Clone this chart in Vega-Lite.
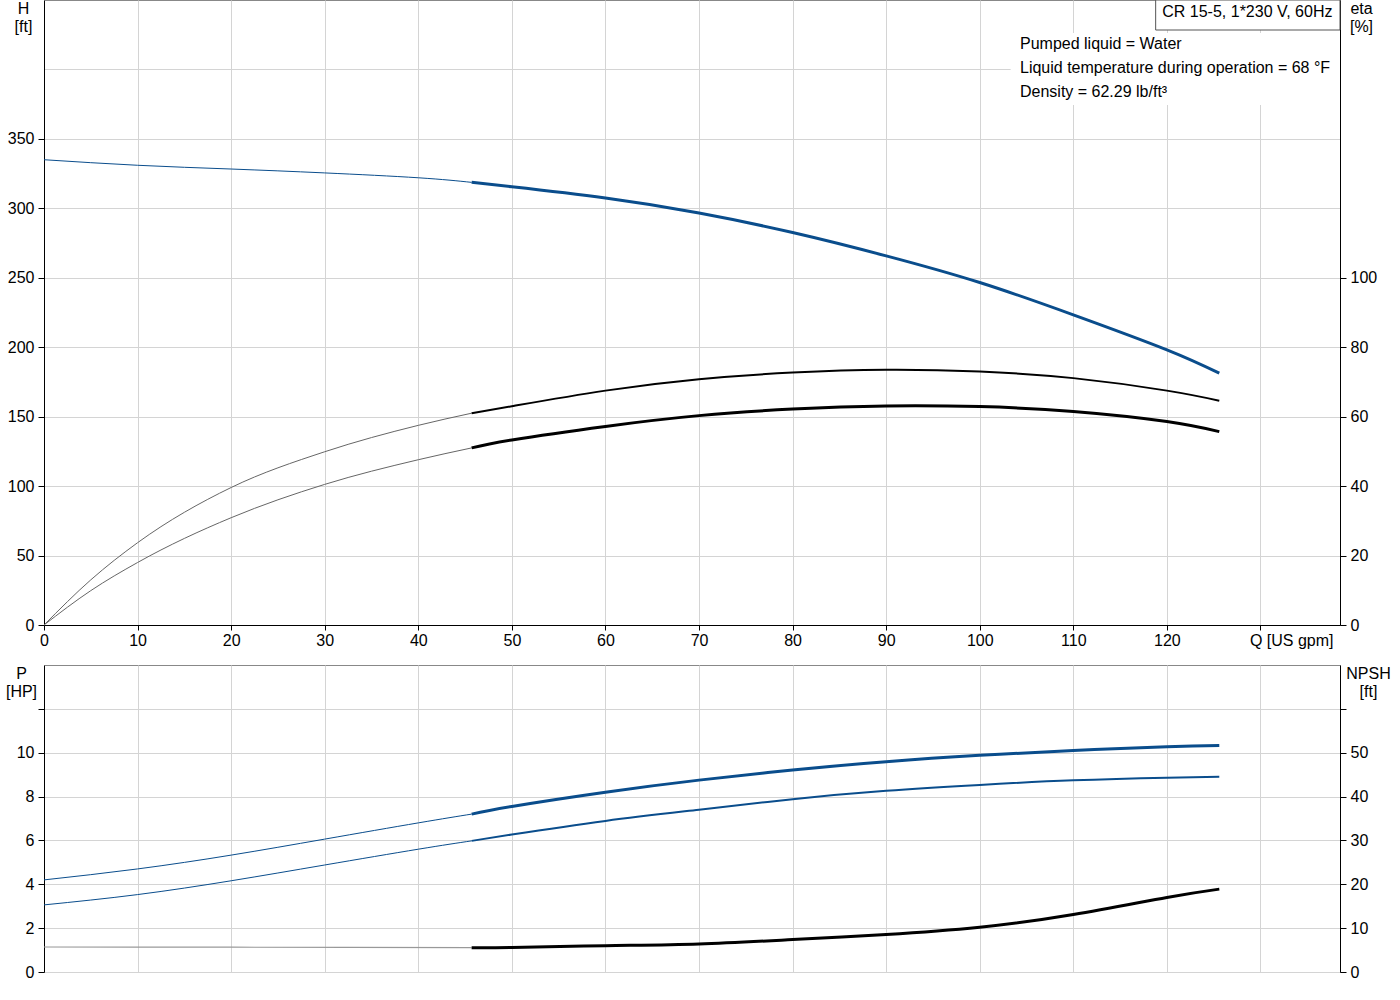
{
  "$schema": "https://vega.github.io/schema/vega-lite/v6.json",
  "padding": {"left": 4, "top": -1, "right": 0, "bottom": 0},
  "spacing": 15,
  "background": "white",
  "config": {
    "font": "Liberation Sans",
    "view": {"stroke": "#888888", "strokeWidth": 1},
    "axis": {
      "labelFont": "Liberation Sans",
      "labelFontSize": 16,
      "labelColor": "#000000",
      "titleFont": "Liberation Sans",
      "titleFontSize": 16,
      "titleFontWeight": "normal",
      "titleColor": "#000000",
      "domainColor": "#000000",
      "tickColor": "#000000",
      "gridColor": "#d4d4d4",
      "gridWidth": 1,
      "tickSize": 6,
      "labelPadding": 4
    },
    "text": {"font": "Liberation Sans", "fontSize": 16, "color": "#000000"}
  },
  "datasets": {
    "curves": [
      {"series": "H", "seg": "thin", "q": 0, "v": 335},
      {"series": "H", "seg": "thin", "q": 10, "v": 331},
      {"series": "H", "seg": "thin", "q": 20, "v": 328.3},
      {"series": "H", "seg": "thin", "q": 30, "v": 325.5},
      {"series": "H", "seg": "thin", "q": 40, "v": 322},
      {"series": "H", "seg": "thin", "q": 45.7, "v": 318.7},
      {"series": "H", "seg": "thick", "q": 45.7, "v": 318.7},
      {"series": "H", "seg": "thick", "q": 50, "v": 315.5},
      {"series": "H", "seg": "thick", "q": 60, "v": 307.4},
      {"series": "H", "seg": "thick", "q": 70, "v": 296.6},
      {"series": "H", "seg": "thick", "q": 80, "v": 282.6},
      {"series": "H", "seg": "thick", "q": 90, "v": 265.8},
      {"series": "H", "seg": "thick", "q": 100, "v": 246.6},
      {"series": "H", "seg": "thick", "q": 110, "v": 223.3},
      {"series": "H", "seg": "thick", "q": 120, "v": 198.1},
      {"series": "H", "seg": "thick", "q": 125.6, "v": 181.3},

      {"series": "eta_pump", "seg": "thin", "q": 0, "v": 0},
      {"series": "eta_pump", "seg": "thin", "q": 5, "v": 13},
      {"series": "eta_pump", "seg": "thin", "q": 10, "v": 23.7},
      {"series": "eta_pump", "seg": "thin", "q": 20, "v": 39.6},
      {"series": "eta_pump", "seg": "thin", "q": 30, "v": 49.9},
      {"series": "eta_pump", "seg": "thin", "q": 40, "v": 57.5},
      {"series": "eta_pump", "seg": "thin", "q": 45.7, "v": 61.0},
      {"series": "eta_pump", "seg": "thick", "q": 45.7, "v": 61.0},
      {"series": "eta_pump", "seg": "thick", "q": 50, "v": 63.0},
      {"series": "eta_pump", "seg": "thick", "q": 60, "v": 67.5},
      {"series": "eta_pump", "seg": "thick", "q": 70, "v": 70.8},
      {"series": "eta_pump", "seg": "thick", "q": 80, "v": 72.7},
      {"series": "eta_pump", "seg": "thick", "q": 90, "v": 73.5},
      {"series": "eta_pump", "seg": "thick", "q": 100, "v": 73.0},
      {"series": "eta_pump", "seg": "thick", "q": 110, "v": 71.1},
      {"series": "eta_pump", "seg": "thick", "q": 120, "v": 67.5},
      {"series": "eta_pump", "seg": "thick", "q": 125.6, "v": 64.6},

      {"series": "eta_total", "seg": "thin", "q": 0, "v": 0},
      {"series": "eta_total", "seg": "thin", "q": 5, "v": 9.9},
      {"series": "eta_total", "seg": "thin", "q": 10, "v": 18.0},
      {"series": "eta_total", "seg": "thin", "q": 20, "v": 30.9},
      {"series": "eta_total", "seg": "thin", "q": 30, "v": 40.5},
      {"series": "eta_total", "seg": "thin", "q": 40, "v": 47.6},
      {"series": "eta_total", "seg": "thin", "q": 45.7, "v": 51.0},
      {"series": "eta_total", "seg": "thick", "q": 45.7, "v": 51.0},
      {"series": "eta_total", "seg": "thick", "q": 50, "v": 53.3},
      {"series": "eta_total", "seg": "thick", "q": 60, "v": 57.2},
      {"series": "eta_total", "seg": "thick", "q": 70, "v": 60.3},
      {"series": "eta_total", "seg": "thick", "q": 80, "v": 62.2},
      {"series": "eta_total", "seg": "thick", "q": 90, "v": 63.1},
      {"series": "eta_total", "seg": "thick", "q": 100, "v": 62.9},
      {"series": "eta_total", "seg": "thick", "q": 110, "v": 61.5},
      {"series": "eta_total", "seg": "thick", "q": 120, "v": 58.6},
      {"series": "eta_total", "seg": "thick", "q": 125.6, "v": 55.7},

      {"series": "P1", "seg": "thin", "q": 0, "v": 4.2},
      {"series": "P1", "seg": "thin", "q": 10, "v": 4.7},
      {"series": "P1", "seg": "thin", "q": 20, "v": 5.33},
      {"series": "P1", "seg": "thin", "q": 30, "v": 6.06},
      {"series": "P1", "seg": "thin", "q": 40, "v": 6.8},
      {"series": "P1", "seg": "thin", "q": 45.7, "v": 7.2},
      {"series": "P1", "seg": "thick", "q": 45.7, "v": 7.2},
      {"series": "P1", "seg": "thick", "q": 50, "v": 7.55},
      {"series": "P1", "seg": "thick", "q": 60, "v": 8.2},
      {"series": "P1", "seg": "thick", "q": 70, "v": 8.75},
      {"series": "P1", "seg": "thick", "q": 80, "v": 9.21},
      {"series": "P1", "seg": "thick", "q": 90, "v": 9.59},
      {"series": "P1", "seg": "thick", "q": 100, "v": 9.88},
      {"series": "P1", "seg": "thick", "q": 110, "v": 10.1},
      {"series": "P1", "seg": "thick", "q": 120, "v": 10.27},
      {"series": "P1", "seg": "thick", "q": 125.6, "v": 10.33},

      {"series": "P2", "seg": "thin", "q": 0, "v": 3.06},
      {"series": "P2", "seg": "thin", "q": 10, "v": 3.53},
      {"series": "P2", "seg": "thin", "q": 20, "v": 4.16},
      {"series": "P2", "seg": "thin", "q": 30, "v": 4.88},
      {"series": "P2", "seg": "thin", "q": 40, "v": 5.6},
      {"series": "P2", "seg": "thin", "q": 45.7, "v": 5.98},
      {"series": "P2", "seg": "thick", "q": 45.7, "v": 5.98},
      {"series": "P2", "seg": "thick", "q": 50, "v": 6.27},
      {"series": "P2", "seg": "thick", "q": 60, "v": 6.89},
      {"series": "P2", "seg": "thick", "q": 70, "v": 7.4},
      {"series": "P2", "seg": "thick", "q": 80, "v": 7.88},
      {"series": "P2", "seg": "thick", "q": 90, "v": 8.26},
      {"series": "P2", "seg": "thick", "q": 100, "v": 8.53},
      {"series": "P2", "seg": "thick", "q": 110, "v": 8.74},
      {"series": "P2", "seg": "thick", "q": 120, "v": 8.86},
      {"series": "P2", "seg": "thick", "q": 125.6, "v": 8.9},

      {"series": "NPSH", "seg": "thin", "q": 0, "v": 5.7},
      {"series": "NPSH", "seg": "thin", "q": 20, "v": 5.65},
      {"series": "NPSH", "seg": "thin", "q": 45.7, "v": 5.55},
      {"series": "NPSH", "seg": "thick", "q": 45.7, "v": 5.55},
      {"series": "NPSH", "seg": "thick", "q": 50, "v": 5.6},
      {"series": "NPSH", "seg": "thick", "q": 60, "v": 6.0},
      {"series": "NPSH", "seg": "thick", "q": 70, "v": 6.4},
      {"series": "NPSH", "seg": "thick", "q": 80, "v": 7.4},
      {"series": "NPSH", "seg": "thick", "q": 90, "v": 8.55},
      {"series": "NPSH", "seg": "thick", "q": 100, "v": 10.2},
      {"series": "NPSH", "seg": "thick", "q": 110, "v": 13.1},
      {"series": "NPSH", "seg": "thick", "q": 120, "v": 17.0},
      {"series": "NPSH", "seg": "thick", "q": 125.6, "v": 18.9}
    ],
    "one": [{}]
  },
  "vconcat": [
    {
      "width": 1296,
      "height": 625,
      "layer": [
        {
          "encoding": {
            "x": {
              "type": "quantitative",
              "scale": {"domain": [0, 138.5], "nice": false, "zero": false},
              "axis": {
                "title": null,
                "values": [0, 10, 20, 30, 40, 50, 60, 70, 80, 90, 100, 110, 120, 130],
                "labelExpr": "datum.value == 130 ? 'Q [US gpm]' : datum.label",
                "labelAlign": {"condition": {"test": "datum.value == 130", "value": "left"}, "value": "center"},
                "labelOffset": {"condition": {"test": "datum.value == 130", "value": -11}, "value": 0},
                "tickSize": 5,
                "labelPadding": 2,
                "grid": true
              }
            },
            "y": {
              "type": "quantitative",
              "scale": {"domain": [0, 450], "nice": false},
              "axis": {
                "orient": "left",
                "title": ["H", "[ft]"],
                "titleAngle": 0,
                "titleAlign": "center",
                "titleBaseline": "top",
                "titleLineHeight": 18,
                "titleX": -21,
                "titleY": 0,
                "values": [0, 50, 100, 150, 200, 250, 300, 350, 400],
                "labelExpr": "datum.value > 350 ? '' : datum.label",
                "tickOpacity": {"condition": {"test": "datum.value > 350", "value": 0}, "value": 1},
                "grid": true
              }
            }
          },
          "layer": [
            {
              "data": {"name": "curves"},
              "transform": [{"filter": "datum.series == 'H' && datum.seg == 'thin'"}],
              "mark": {"type": "line", "interpolate": "natural", "color": "#0a4d8c", "strokeWidth": 1},
              "encoding": {"x": {"field": "q"}, "y": {"field": "v"}}
            },
            {
              "data": {"name": "curves"},
              "transform": [{"filter": "datum.series == 'H' && datum.seg == 'thick'"}],
              "mark": {"type": "line", "interpolate": "natural", "color": "#0a4d8c", "strokeWidth": 3},
              "encoding": {"x": {"field": "q"}, "y": {"field": "v"}}
            },
            {
              "data": {"name": "one"},
              "mark": {"type": "rect", "fill": "white", "stroke": null},
              "encoding": {
                "x": {"datum": 103.3}, "x2": {"datum": 138.5},
                "y": {"datum": 426.2}, "y2": {"datum": 374.4}
              }
            },
            {
              "data": {"name": "one"},
              "mark": {"type": "rect", "fill": "white", "stroke": "#555555", "strokeWidth": 1},
              "encoding": {
                "x": {"datum": 118.8}, "x2": {"datum": 138.5},
                "y": {"datum": 450}, "y2": {"datum": 428.4}
              }
            },
            {
              "data": {"name": "one"},
              "mark": {"type": "text", "align": "center", "baseline": "middle", "text": "CR 15-5, 1*230 V, 60Hz"},
              "encoding": {"x": {"datum": 128.6}, "y": {"datum": 441.4}}
            },
            {
              "data": {"name": "one"},
              "mark": {
                "type": "text", "align": "left", "baseline": "top", "lineHeight": 24,
                "text": ["Pumped liquid = Water", "Liquid temperature during operation = 68 °F", "Density = 62.29 lb/ft³"]
              },
              "encoding": {"x": {"datum": 104.3}, "y": {"datum": 424.1}}
            }
          ]
        },
        {
          "data": {"name": "curves"},
          "encoding": {
            "x": {"field": "q", "type": "quantitative", "scale": {"domain": [0, 138.5], "nice": false, "zero": false}},
            "y": {
              "field": "v",
              "type": "quantitative",
              "scale": {"domain": [0, 180], "nice": false},
              "axis": {
                "orient": "right",
                "title": ["eta", "[%]"],
                "titleAngle": 0,
                "titleAlign": "center",
                "titleBaseline": "top",
                "titleLineHeight": 18,
                "titleX": 21,
                "titleY": 0,
                "values": [0, 20, 40, 60, 80, 100],
                "grid": false
              }
            }
          },
          "layer": [
            {
              "transform": [{"filter": "datum.series == 'eta_pump' && datum.seg == 'thin'"}],
              "mark": {"type": "line", "interpolate": "monotone", "color": "#666666", "strokeWidth": 1}
            },
            {
              "transform": [{"filter": "datum.series == 'eta_total' && datum.seg == 'thin'"}],
              "mark": {"type": "line", "interpolate": "monotone", "color": "#666666", "strokeWidth": 1}
            },
            {
              "transform": [{"filter": "datum.series == 'eta_pump' && datum.seg == 'thick'"}],
              "mark": {"type": "line", "interpolate": "natural", "color": "#000000", "strokeWidth": 2}
            },
            {
              "transform": [{"filter": "datum.series == 'eta_total' && datum.seg == 'thick'"}],
              "mark": {"type": "line", "interpolate": "natural", "color": "#000000", "strokeWidth": 3}
            }
          ]
        }
      ],
      "resolve": {"scale": {"y": "independent"}}
    },
    {
      "width": 1296,
      "height": 307,
      "layer": [
        {
          "data": {"name": "curves"},
          "encoding": {
            "x": {
              "field": "q",
              "type": "quantitative",
              "scale": {"domain": [0, 138.5], "nice": false, "zero": false},
              "axis": {
                "title": null,
                "values": [0, 10, 20, 30, 40, 50, 60, 70, 80, 90, 100, 110, 120, 130],
                "labels": false,
                "ticks": false,
                "domain": false,
                "grid": true
              }
            },
            "y": {
              "field": "v",
              "type": "quantitative",
              "scale": {"domain": [0, 14], "nice": false},
              "axis": {
                "orient": "left",
                "title": ["P", "[HP]"],
                "titleAngle": 0,
                "titleAlign": "center",
                "titleBaseline": "top",
                "titleLineHeight": 18,
                "titleX": -23,
                "titleY": 0,
                "values": [0, 2, 4, 6, 8, 10, 12],
                "labelExpr": "datum.value > 10 ? '' : datum.label",
                "grid": true
              }
            }
          },
          "layer": [
            {
              "transform": [{"filter": "(datum.series == 'P1' || datum.series == 'P2') && datum.seg == 'thin'"}],
              "mark": {"type": "line", "interpolate": "natural", "color": "#0a4d8c", "strokeWidth": 1},
              "encoding": {"detail": {"field": "series"}}
            },
            {
              "transform": [{"filter": "datum.series == 'P1' && datum.seg == 'thick'"}],
              "mark": {"type": "line", "interpolate": "natural", "color": "#0a4d8c", "strokeWidth": 3}
            },
            {
              "transform": [{"filter": "datum.series == 'P2' && datum.seg == 'thick'"}],
              "mark": {"type": "line", "interpolate": "natural", "color": "#0a4d8c", "strokeWidth": 2}
            },
            {
              "data": {"name": "one"},
              "mark": {"type": "text", "align": "center", "baseline": "middle", "dy": -15, "color": "#0a4d8c", "text": "P1"},
              "encoding": {"x": {"datum": 125.6}, "y": {"datum": 10.33}}
            },
            {
              "data": {"name": "one"},
              "mark": {"type": "text", "align": "center", "baseline": "middle", "dy": 9, "color": "#0a4d8c", "text": "P2"},
              "encoding": {"x": {"datum": 125.6}, "y": {"datum": 8.9}}
            }
          ]
        },
        {
          "data": {"name": "curves"},
          "encoding": {
            "x": {"field": "q", "type": "quantitative", "scale": {"domain": [0, 138.5], "nice": false, "zero": false}},
            "y": {
              "field": "v",
              "type": "quantitative",
              "scale": {"domain": [0, 70], "nice": false},
              "axis": {
                "orient": "right",
                "title": ["NPSH", "[ft]"],
                "titleAngle": 0,
                "titleAlign": "center",
                "titleBaseline": "top",
                "titleLineHeight": 18,
                "titleX": 28,
                "titleY": 0,
                "values": [0, 10, 20, 30, 40, 50, 60],
                "labelExpr": "datum.value > 50 ? '' : datum.label",
                "grid": false
              }
            }
          },
          "layer": [
            {
              "transform": [{"filter": "datum.series == 'NPSH' && datum.seg == 'thin'"}],
              "mark": {"type": "line", "interpolate": "monotone", "color": "#999999", "strokeWidth": 1.2}
            },
            {
              "transform": [{"filter": "datum.series == 'NPSH' && datum.seg == 'thick'"}],
              "mark": {"type": "line", "interpolate": "natural", "color": "#000000", "strokeWidth": 3}
            }
          ]
        }
      ],
      "resolve": {"scale": {"y": "independent"}}
    }
  ]
}
